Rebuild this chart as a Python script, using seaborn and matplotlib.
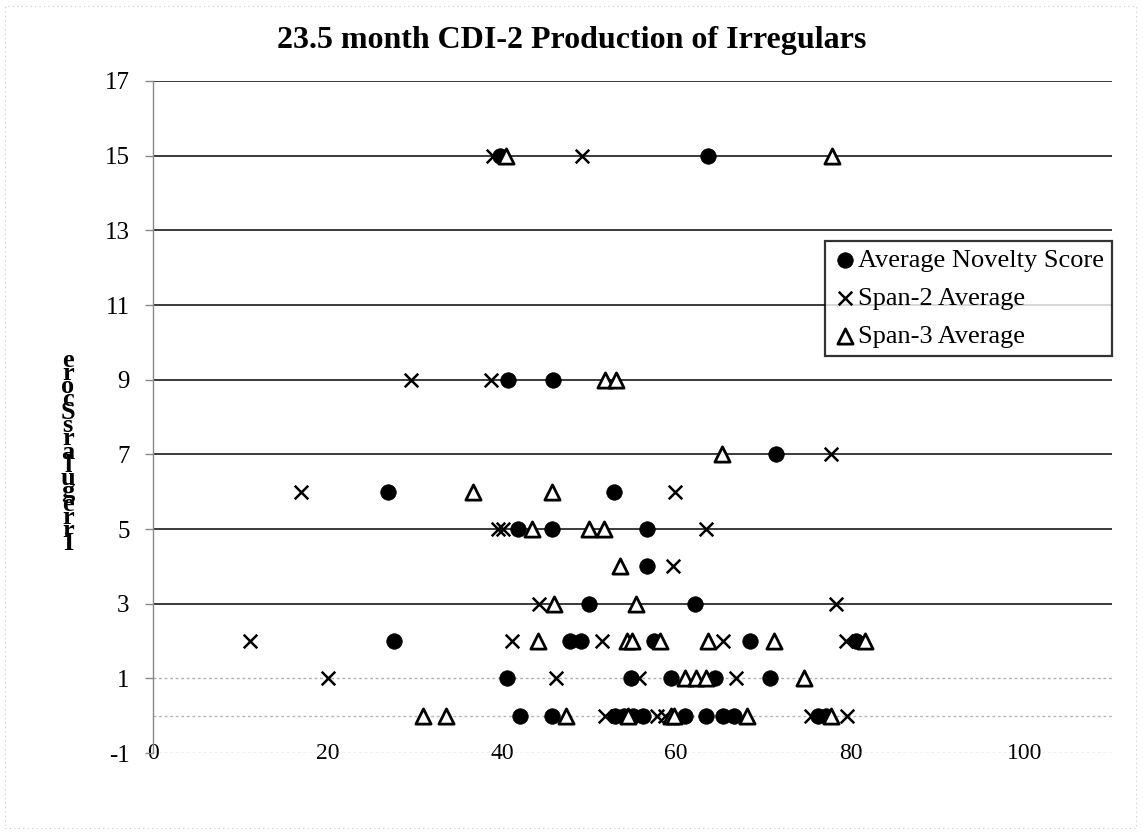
import matplotlib
matplotlib.use("Agg")
import matplotlib.pyplot as plt
import seaborn as sns
from matplotlib.patches import Rectangle

# ==========================================
# 1. DATA
# ==========================================
novelty_x = [39.8, 63.6,
             40.7, 45.9,
             71.5,
             26.9, 52.9,
             41.9, 45.7, 56.6,
             56.6,
             50.0, 62.1,
             27.6, 47.8, 49.1, 57.5, 68.5, 80.6,
             40.6, 54.8, 59.4, 64.4, 70.7,
             42.1, 45.7, 53.0, 54.0, 55.0, 56.2, 61.0, 63.4, 65.4, 66.6, 76.3, 77.2]
novelty_y = [15, 15,
             9, 9,
             7,
             6, 6,
             5, 5, 5,
             4,
             3, 3,
             2, 2, 2, 2, 2, 2,
             1, 1, 1, 1, 1,
             0, 0, 0, 0, 0, 0, 0, 0, 0, 0, 0, 0]

span2_x = [39.0, 49.2,
           29.6, 38.8,
           77.7,
           17.0, 59.9,
           39.5, 40.1, 63.4,
           59.6,
           44.3, 78.3,
           11.1, 41.2, 51.5, 65.4, 79.5,
           20.0, 46.2, 55.7, 66.8,
           51.8, 57.8, 58.7, 75.5, 79.6]
span2_y = [15, 15,
           9, 9,
           7,
           6, 6,
           5, 5, 5,
           4,
           3, 3,
           2, 2, 2, 2, 2,
           1, 1, 1, 1,
           0, 0, 0, 0, 0]

span3_x = [40.5, 77.9,
           51.8, 53.1,
           65.3,
           36.7, 45.8,
           43.5, 50.0, 51.7,
           53.6,
           46.0, 55.4,
           44.1, 54.3, 54.9, 58.1, 63.7, 71.2, 81.7,
           61.0, 62.3, 63.4, 74.6,
           30.9, 33.6, 47.3, 54.5, 59.4, 59.7, 68.1, 77.8]
span3_y = [15, 15,
           9, 9,
           7,
           6, 6,
           5, 5, 5,
           4,
           3, 3,
           2, 2, 2, 2, 2, 2, 2,
           1, 1, 1, 1,
           0, 0, 0, 0, 0, 0, 0, 0]

x_ticks = [0, 20, 40, 60, 80, 100]
y_ticks = [-1, 1, 3, 5, 7, 9, 11, 13, 15, 17]

# ==========================================
# 2. STYLE
# ==========================================
sns.set_theme(style="white")
plt.rcParams['font.family'] = ['Liberation Serif', 'DejaVu Serif']
plt.rcParams['axes.unicode_minus'] = False
plt.rcParams['text.color'] = 'black'
plt.rcParams['axes.labelcolor'] = 'black'

fig = plt.figure(figsize=(11.43, 8.35), dpi=100)
ax = fig.add_axes([0.134, 0.098, 0.839, 0.805])

# ==========================================
# 3. SCATTER SERIES
# ==========================================
sns.scatterplot(x=novelty_x, y=novelty_y, marker='o', s=125, color='black',
                edgecolor='black', linewidth=0.5, label='Average Novelty Score',
                ax=ax, zorder=4)
sns.scatterplot(x=span2_x, y=span2_y, marker='x', s=95, color='black',
                linewidth=1.8, label='Span-2 Average', ax=ax, zorder=4)
sns.scatterplot(x=span3_x, y=span3_y, marker='^', s=120, color='white',
                edgecolor='black', linewidth=2.0, label='Span-3 Average',
                ax=ax, zorder=4)

# ==========================================
# 4. AXES, GRID, LABELS
# ==========================================
ax.set_xlim(0, 110)
ax.set_ylim(-1, 17)
ax.set_xticks(x_ticks)
ax.set_yticks(y_ticks)
ax.set_xlabel('')

ax.yaxis.grid(True, color='#3a3a3a', linewidth=1.4)
ax.xaxis.grid(False)
for val, gl in zip(y_ticks, ax.get_ygridlines()):
    if val in (-1, 1):
        gl.set_color('#b0b0b0')
        gl.set_linestyle((0, (2, 2)))
        gl.set_linewidth(1.0)
ax.axhline(0, color='#b5b5b5', linewidth=1.0, linestyle=(0, (2, 2)), zorder=1)

for side in ['top', 'right', 'bottom']:
    ax.spines[side].set_visible(False)
ax.spines['left'].set_color('#888888')
ax.spines['left'].set_linewidth(1.0)
ax.spines['left'].set_linestyle((0, (2, 1)))

ax.tick_params(axis='y', length=6, width=1, color='#888888', labelsize=18,
               pad=11, left=True, labelcolor='black')
ax.tick_params(axis='x', length=0, labelsize=17, pad=0, labelcolor='black')
for lab in ax.get_xticklabels():
    lab.set_verticalalignment('center')

# garbled stacked axis title as in the scan
ax.set_ylabel("e\nr\no\nc\nS\ns\nr\na\nl\nu\ng\ne\nr\nr\nI", rotation=0,
              fontsize=19, fontweight='bold', linespacing=0.45,
              ha='center', va='center', color='black')
ax.yaxis.set_label_coords(-0.089, 0.448)

fig.suptitle('23.5 month CDI-2 Production of Irregulars', x=0.5, y=0.952,
             fontsize=23, fontweight='bold', va='center', color='black')

# ==========================================
# 5. LEGEND
# ==========================================
leg = ax.legend(loc='upper right', bbox_to_anchor=(1.0, 0.762), borderaxespad=0,
                fontsize=19, frameon=True, fancybox=False, edgecolor='black',
                handletextpad=0.05, handlelength=0.9, labelspacing=0.55,
                borderpad=0.3)
leg.get_frame().set_linewidth(1.6)
leg.set_zorder(6)
for txt in leg.get_texts():
    txt.set_color('black')

# faint chart-area border from the scan
fig.patches.append(Rectangle((0.004, 0.008), 0.99, 0.985, transform=fig.transFigure,
                             fill=False, edgecolor='#c8c8c8', linewidth=0.8,
                             linestyle=(0, (1, 3))))

fig.savefig('out.png', dpi=100)
